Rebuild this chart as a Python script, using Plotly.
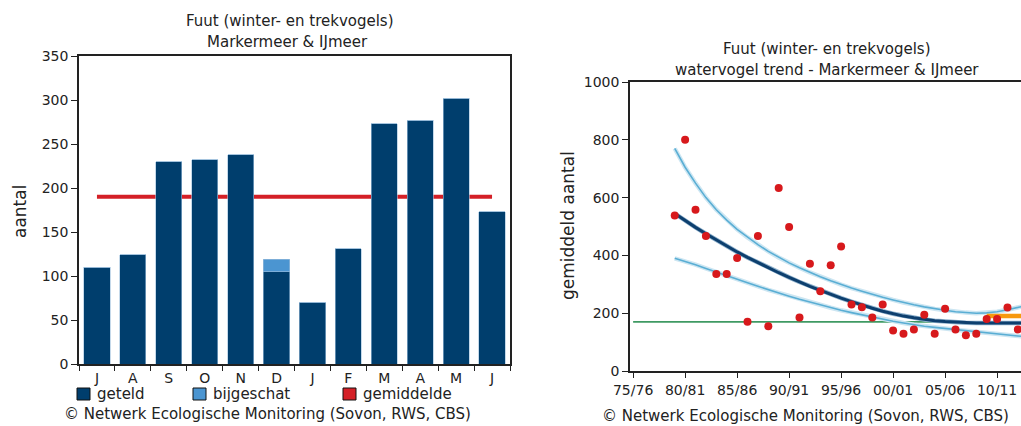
import plotly.graph_objects as go

# --- left chart: monthly counts (season July - June)
maanden = ["J", "A", "S", "O", "N", "D", "J", "F", "M", "A", "M", "J"]
geteld = [110, 124, 230, 232, 238, 105, 70, 131, 273, 277, 302, 173]
bijgeschat = [0, 0, 0, 0, 0, 14, 0, 0, 0, 0, 0, 0]
gemiddelde = 190

# --- right chart: yearly means + trend
jaren = list(range(1979, 2013))
gemiddeld_aantal = [538, 800, 558, 467, 336, 336, 391, 170, 467, 155, 633, 498,
                    185, 371, 276, 366, 431, 230, 221, 185, 230, 140, 129, 144,
                    195, 129, 215, 144, 124, 129, 180, 180, 220, 144]
trend_jaren = list(range(1979, 2014))
trend = [545, 520, 497, 475, 453, 432, 412, 393, 375, 357, 340, 324, 308, 293,
         279, 265, 252, 240, 228, 217, 207, 198, 190, 184, 178, 174, 171, 169,
         167, 166, 166, 166, 166, 166, 166]
trend_hoog = [770, 705, 650, 600, 558, 522, 490, 462, 437, 414, 393, 374, 357,
              341, 326, 312, 299, 287, 276, 265, 255, 246, 237, 229, 222, 215,
              210, 205, 202, 200, 201, 205, 212, 220, 228]
trend_laag = [390, 380, 368, 355, 342, 330, 318, 305, 293, 281, 270, 259, 248,
              238, 228, 219, 210, 202, 194, 186, 179, 172, 166, 160, 155, 151,
              147, 143, 139, 135, 131, 128, 124, 121, 118]
referentie_jaren = [1975, 2013]
referentie = 170
recent_jaren = [2009, 2013]
recent = 190
seizoen_ticks = [1975, 1980, 1985, 1990, 1995, 2000, 2005, 2010]
seizoen_labels = ["75/76", "80/81", "85/86", "90/91", "95/96", "00/01", "05/06", "10/11"]

W, H = 1021, 426
FONT = "DejaVu Sans"
INK = "#222"
NAVY = "#003e6d"
LIGHT = "#4b95d1"
RED = "#d42027"

def px(x):
    return x / W

def py(y):
    return 1 - y / H

fig = go.Figure()

idx = list(range(len(maanden)))
fig.add_trace(go.Bar(x=idx, y=geteld, marker=dict(color=NAVY, line=dict(color="#9fc0dc", width=0.6)),
                     xaxis="x", yaxis="y", showlegend=False))
fig.add_trace(go.Bar(x=idx, y=bijgeschat, marker=dict(color=LIGHT, line=dict(color="#9fc0dc", width=0.6)),
                     xaxis="x", yaxis="y", showlegend=False))
# average line sits behind the bars
fig.add_shape(type="line", xref="x", yref="y", x0=idx[0], x1=idx[-1], y0=gemiddelde, y1=gemiddelde,
              line=dict(color=RED, width=4), layer="below")

# right chart
fig.add_trace(go.Scatter(x=referentie_jaren, y=[referentie] * 2, mode="lines",
                         line=dict(color="#3f9a63", width=1.6), xaxis="x2", yaxis="y2", showlegend=False))
for band in (trend_hoog, trend_laag):
    fig.add_trace(go.Scatter(x=trend_jaren, y=band, mode="lines", line=dict(color="#cde6f2", width=4.5),
                             xaxis="x2", yaxis="y2", showlegend=False))
    fig.add_trace(go.Scatter(x=trend_jaren, y=band, mode="lines", line=dict(color="#5aaed4", width=1.6),
                             xaxis="x2", yaxis="y2", showlegend=False))
fig.add_trace(go.Scatter(x=trend_jaren, y=trend, mode="lines", line=dict(color="#8fb1cc", width=4.5),
                         xaxis="x2", yaxis="y2", showlegend=False))
fig.add_trace(go.Scatter(x=trend_jaren, y=trend, mode="lines", line=dict(color="#0d3f6e", width=3),
                         xaxis="x2", yaxis="y2", showlegend=False))
fig.add_trace(go.Scatter(x=recent_jaren, y=[recent] * 2, mode="lines", line=dict(color="#f7990f", width=4.5),
                         xaxis="x2", yaxis="y2", showlegend=False))
fig.add_trace(go.Scatter(x=jaren, y=gemiddeld_aantal, mode="markers",
                         marker=dict(color="#d7191c", size=8, line=dict(width=0)),
                         xaxis="x2", yaxis="y2", showlegend=False, cliponaxis=True))

axfont = dict(family=FONT, size=14, color=INK)
line_style = dict(showline=True, linecolor=INK, linewidth=1.5, showgrid=False, zeroline=False,
                  tickfont=axfont, automargin=False, tickcolor=INK)
fig.update_layout(
    width=W, height=H, margin=dict(l=0, r=0, t=0, b=0, autoexpand=False),
    paper_bgcolor="white", plot_bgcolor="white",
    barmode="stack", bargap=0.27,
    font=dict(family=FONT, color=INK),
    xaxis=dict(domain=[px(79), px(510)], range=[-0.5, 11.5], tickmode="array", tickvals=idx,
               ticktext=maanden, ticks="", mirror=True,
               minor=dict(tickmode="array", tickvals=[i - 0.5 for i in idx] + [11.5],
                          ticks="outside", ticklen=5, tickcolor=INK, showgrid=False), **line_style),
    yaxis=dict(domain=[py(364), py(56)], range=[0, 350], dtick=50, ticks="outside", ticklen=6,
               mirror=True, **line_style),
    xaxis2=dict(domain=[px(630), 1.0], range=[1974.7, 2012.3], tickmode="array", tickvals=seizoen_ticks,
                ticktext=seizoen_labels, ticks="outside", ticklen=5, mirror=True, anchor="y2", **line_style),
    yaxis2=dict(domain=[py(371), py(82)], range=[0, 1000], dtick=200, ticks="outside", ticklen=6,
                anchor="x2", **line_style),
)

ann = []
def tekst(x, y, s, size=15, xanchor="center", angle=0):
    ann.append(dict(x=px(x), y=py(y), xref="paper", yref="paper", text=s, showarrow=False,
                    xanchor=xanchor, yanchor="middle", textangle=angle,
                    font=dict(family=FONT, size=size, color=INK)))

tekst(290, 21, "Fuut (winter- en trekvogels)")
tekst(287, 42, "Markermeer &amp; IJmeer")
tekst(827, 49, "Fuut (winter- en trekvogels)")
tekst(827, 70, "watervogel trend - Markermeer &amp; IJmeer")
tekst(267, 414, "© Netwerk Ecologische Monitoring (Sovon, RWS, CBS)")
tekst(805, 416, "© Netwerk Ecologische Monitoring (Sovon, RWS, CBS)")
tekst(20, 212, "aantal", size=17, angle=-90)
tekst(568, 226, "gemiddeld aantal", size=17, angle=-90)

# legend for the bar chart
legenda = [("geteld", NAVY, 77), ("bijgeschat", LIGHT, 193), ("gemiddelde", RED, 343)]
for naam, kleur, x0 in legenda:
    fig.add_shape(type="rect", xref="paper", yref="paper", x0=px(x0), x1=px(x0 + 13),
                  y0=py(400), y1=py(388), fillcolor=kleur, line=dict(color="#111", width=1))
    tekst(x0 + 18, 394, naam, xanchor="left")

fig.update_layout(annotations=ann)
# the page's default body margin would push the figure 8px off
fig.write_html("out.html", config={"displayModeBar": False},
               post_script="document.body.style.margin='0';")
